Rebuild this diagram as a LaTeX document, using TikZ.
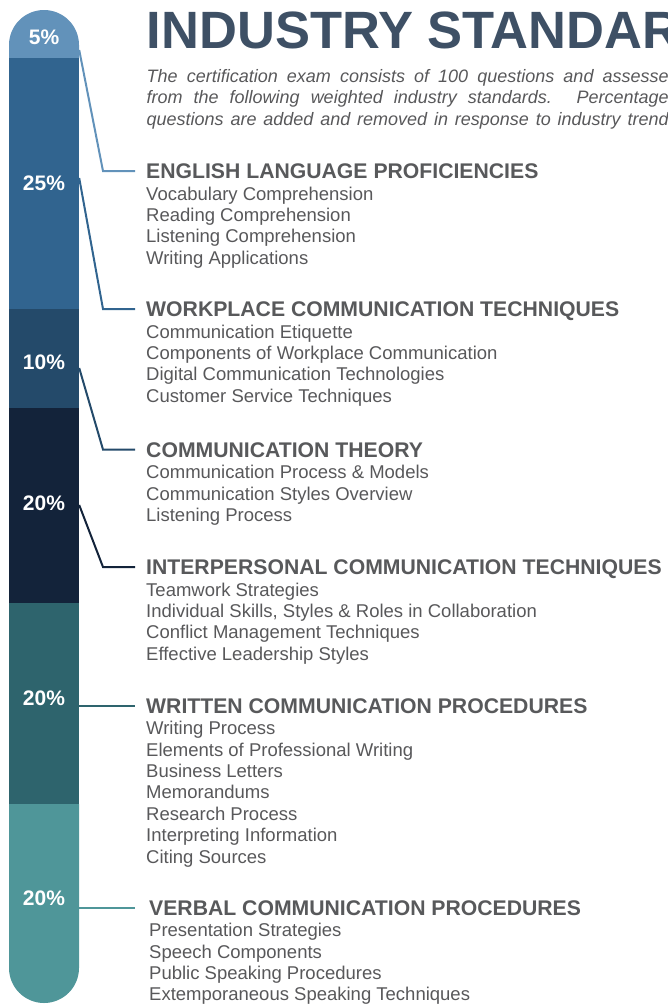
\documentclass[tikz,border=0pt]{standalone}
\usepackage{fontspec}
\setmainfont{Liberation Sans}
\usetikzlibrary{positioning}

\definecolor{barA}{RGB}{98,146,186}
\definecolor{barB}{RGB}{49,100,143}
\definecolor{barC}{RGB}{36,74,106}
\definecolor{barD}{RGB}{19,35,58}
\definecolor{barE}{RGB}{46,100,109}
\definecolor{barF}{RGB}{79,150,153}
\definecolor{titleblue}{RGB}{62,80,101}
\definecolor{headgray}{RGB}{88,89,91}
\definecolor{itemgray}{RGB}{88,88,90}

\begin{document}
\begin{tikzpicture}[x=1pt,y=-1pt,
    pct/.style={text=white, font=\bfseries\fontsize{21}{21}\selectfont, minimum width=70pt, inner sep=0pt},
    head/.style={anchor=base west, text=headgray, font=\bfseries\fontsize{21.2}{21}\selectfont, inner sep=0pt, text height=15pt, text depth=0pt},
    items/.style={align=left, text=itemgray, font=\fontsize{18.5}{21.4}\selectfont, inner sep=0pt},
    link/.style={line width=2pt}]
        \useasboundingbox (0,0) rectangle (668,1007);
        \clip (0,0) rectangle (668,1007);

        % Title and intro
        \node[anchor=base west, inner sep=0pt, text=titleblue, font=\bfseries\fontsize{52.5}{52.5}\selectfont] (title) at (146.5,48) {INDUSTRY STANDARDS};
        \node[below=21pt of title.base west, anchor=north west, inner sep=0pt, align=left, text=itemgray, font=\itshape\fontsize{18}{21.4}\selectfont] (intro) {%
            \makebox[531pt][s]{The certification exam consists of 100 questions and assesses}\\
            \makebox[531pt][s]{from the following weighted industry standards. Percentages}\\
            \makebox[531pt][s]{questions are added and removed in response to industry trends}};

        % Bar segments
        \fill[barA] (9,58) -- (9,45) arc (180:360:35) -- (79,58) -- cycle;
        \fill[barB] (9,58) rectangle (79,309);
        \fill[barC] (9,309) rectangle (79,408);
        \fill[barD] (9,408) rectangle (79,603);
        \fill[barE] (9,603) rectangle (79,804);
        \fill[barF] (9,804) -- (9,968) arc (180:0:35) -- (79,804) -- cycle;

        % Percentages
        \node[pct] (p5) at (44,37) {5\%};
        \node[pct] (p25) at (44,183) {25\%};
        \node[pct] (p10) at (44,362) {10\%};
        \node[pct] (p20a) at (44,503) {20\%};
        \node[pct] (p20b) at (44,698) {20\%};
        \node[pct] (p20c) at (44,898) {20\%};

        % Standards
        \node[head] (h1) at (146,178.5) {ENGLISH LANGUAGE PROFICIENCIES};
        \node[items, below=8pt of h1.base west, anchor=north west] (l1) {Vocabulary Comprehension\\Reading Comprehension\\Listening Comprehension\\Writing Applications};

        \node[head] (h2) at (146,316.5) {WORKPLACE COMMUNICATION TECHNIQUES};
        \node[items, below=8pt of h2.base west, anchor=north west] (l2) {Communication Etiquette\\Components of Workplace Communication\\Digital Communication Technologies\\Customer Service Techniques};

        \node[head] (h3) at (146,457) {COMMUNICATION THEORY};
        \node[items, below=8pt of h3.base west, anchor=north west] (l3) {Communication Process \& Models\\Communication Styles Overview\\Listening Process};

        \node[head] (h4) at (146,574.5) {INTERPERSONAL COMMUNICATION TECHNIQUES};
        \node[items, below=8pt of h4.base west, anchor=north west] (l4) {Teamwork Strategies\\Individual Skills, Styles \& Roles in Collaboration\\Conflict Management Techniques\\Effective Leadership Styles};

        \node[head] (h5) at (146,713) {WRITTEN COMMUNICATION PROCEDURES};
        \node[items, below=8pt of h5.base west, anchor=north west] (l5) {Writing Process\\Elements of Professional Writing\\Business Letters\\Memorandums\\Research Process\\Interpreting Information\\Citing Sources};

        \node[head] (h6) at (149,915) {VERBAL COMMUNICATION PROCEDURES};
        \node[items, below=8pt of h6.base west, anchor=north west] (l6) {Presentation Strategies\\Speech Components\\Public Speaking Procedures\\Extemporaneous Speaking Techniques};

        % Connectors
        \draw[link, barA] ([yshift=-13pt]p5.east) -- ([xshift=-43pt]h1.west) -- ([xshift=-11pt]h1.west);
        \draw[link, barB] ([yshift=5pt]p25.east) -- ([xshift=-43pt]h2.west) -- ([xshift=-11pt]h2.west);
        \draw[link, barC] ([yshift=-6pt]p10.east) -- ([xshift=-43pt]h3.west) -- ([xshift=-11pt]h3.west);
        \draw[link, barD] ([yshift=-2pt]p20a.east) -- ([xshift=-43pt]h4.west) -- ([xshift=-11pt]h4.west);
        \draw[link, barE] (p20b.east |- h5.west) -- ([xshift=-11pt]h5.west);
        \draw[link, barF] (p20c.east |- h6.west) -- ([xshift=-14pt]h6.west);
    \end{tikzpicture}
\end{document}
